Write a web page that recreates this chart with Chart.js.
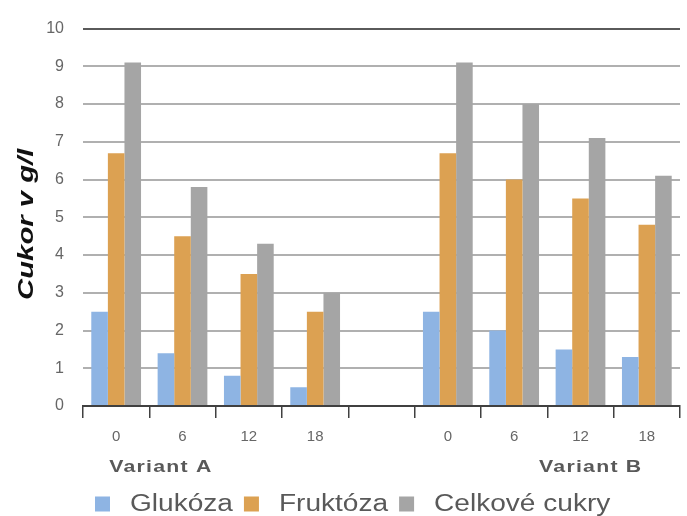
<!DOCTYPE html>
<html>
<head>
<meta charset="utf-8">
<script src="https://cdn.jsdelivr.net/npm/chart.js@4/dist/chart.umd.min.js"></script>
<style>
  html, body { margin: 0; padding: 0; background: #ffffff; }
  #wrap { width: 687px; height: 516px; }
</style>
</head>
<body>
<div id="wrap"><canvas id="c" width="687" height="516"></canvas></div>
<script>
// Sampling times (hours) for both variants, with an empty slot between the groups
const categories = ['0', '6', '12', '18', '', '0', '6', '12', '18'];
const groupLabels = ['Variant A', 'Variant B'];
const seriesNames = ['Glukóza', 'Fruktóza', 'Celkové cukry'];

// Sugar content in g/l
const glukoza = [2.5, 1.4, 0.8, 0.5, null, 2.5, 2.0, 1.5, 1.3];
const fruktoza = [6.7, 4.5, 3.5, 2.5, null, 6.7, 6.0, 5.5, 4.8];
const celkoveCukry = [9.1, 5.8, 4.3, 3.0, null, 9.1, 8.0, 7.1, 6.1];

const yTicks = [0, 1, 2, 3, 4, 5, 6, 7, 8, 9, 10];
const yTitle = 'Cukor v g/l';

const colors = ['#8EB4E3', '#DCA152', '#A5A5A5'];
const TEXT_GREY = '#595959';
const FONT = '"Liberation Sans", Arial, sans-serif';

// draw text widened along its own direction
function wideText(ctx, text, x, y, stretch, align) {
  ctx.save();
  ctx.translate(x, y);
  ctx.scale(stretch, 1);
  ctx.textAlign = align;
  ctx.fillText(text, 0, 0);
  ctx.restore();
}

// Group captions, y-axis title and legend
const extraText = {
  id: 'extraText',
  afterDraw(chart) {
    const ctx = chart.ctx;
    const x = chart.scales.x;
    const area = chart.chartArea;
    ctx.save();
    ctx.textBaseline = 'middle';

    // group captions under the time labels
    ctx.font = 'bold 17px ' + FONT;
    ctx.fillStyle = TEXT_GREY;
    const groupPos = [0.66, 7.14];
    groupLabels.forEach((t, i) => {
      ctx.letterSpacing = '1px';
      wideText(ctx, t, x.getPixelForValue(groupPos[i]) + 1, 467, 1.25, 'center');
    });
    ctx.letterSpacing = '0px';

    // y-axis title
    ctx.save();
    ctx.translate(27, (area.top + area.bottom) / 2 + 7);
    ctx.rotate(-Math.PI / 2);
    ctx.font = 'italic bold 22px ' + FONT;
    ctx.fillStyle = '#111111';
    wideText(ctx, yTitle, 0, 0, 1.33, 'center');
    ctx.restore();

    // legend
    const stretch = 1.22;
    ctx.font = '23px ' + FONT;
    const box = 15, gapText = 20, gapItem = 11, cy = 504;
    let lx = area.left + 12;
    chart.data.datasets.forEach(ds => {
      ctx.fillStyle = ds.backgroundColor;
      ctx.fillRect(lx, cy - box / 2, box, box);
      lx += box + gapText;
      ctx.fillStyle = TEXT_GREY;
      wideText(ctx, ds.label, lx, cy + 1, stretch, 'left');
      lx += ctx.measureText(ds.label).width * stretch + gapItem;
    });
    ctx.restore();
  }
};

new Chart(document.getElementById('c'), {
  type: 'bar',
  data: {
    labels: categories,
    datasets: [
      { label: seriesNames[0], data: glukoza, backgroundColor: colors[0] },
      { label: seriesNames[1], data: fruktoza, backgroundColor: colors[1] },
      { label: seriesNames[2], data: celkoveCukry, backgroundColor: colors[2] }
    ]
  },
  options: {
    responsive: false,
    animation: false,
    devicePixelRatio: 1,
    layout: { padding: { top: 20, right: 7, left: 0, bottom: 0 } },
    datasets: {
      bar: { categoryPercentage: 0.75, barPercentage: 1.0, borderWidth: 0 }
    },
    plugins: {
      legend: { display: false },
      tooltip: { enabled: false }
    },
    scales: {
      x: {
        offset: true,
        afterFit(scale) { scale.height = 110; },
        grid: {
          offset: true,
          drawOnChartArea: false,
          drawTicks: true,
          tickLength: 12,
          color: '#404040',
          lineWidth: 1.5
        },
        border: { display: true, color: '#404040', width: 2 },
        ticks: {
          color: '#666666',
          padding: 10,
          font: { family: FONT, size: 15 }
        }
      },
      y: {
        min: 0,
        max: 10,
        afterFit(scale) { scale.width = 83; },
        afterBuildTicks(scale) { scale.ticks = yTicks.map(v => ({ value: v })); },
        grid: {
          drawTicks: false,
          color: ctx => (ctx.tick && ctx.tick.value === 10 ? '#5a5a5a' : (ctx.tick && ctx.tick.value === 0 ? '#404040' : '#b0b0b0')),
          lineWidth: 2
        },
        border: { display: false },
        ticks: {
          color: '#666666',
          padding: 19,
          font: { family: FONT, size: 16 }
        }
      }
    }
  },
  plugins: [extraText]
});
</script>
</body>
</html>
